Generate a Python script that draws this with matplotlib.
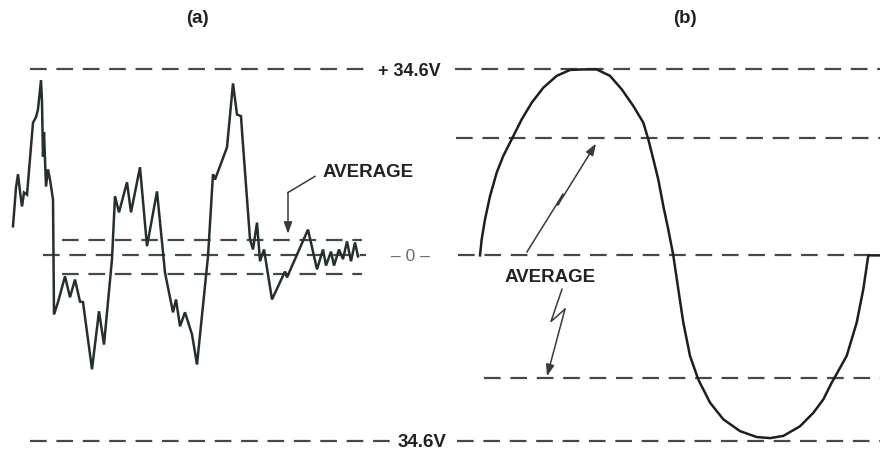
import matplotlib
matplotlib.use("Agg")
import matplotlib.pyplot as plt

plt.rcParams['lines.scale_dashes'] = False
plt.rcParams['font.family'] = ['Liberation Sans', 'DejaVu Sans']

# ---- data (time in arbitrary units, voltage in V) ----
peak_v = 34.6
band_a_hi = 2.8
band_a_lo = -3.4
avg_b_hi = 21.8
avg_b_lo = -22.9

# (a) random-like waveform
a_t = [13, 16, 18, 20, 22, 24, 27, 33, 36, 38, 41, 42, 43, 44, 46, 48, 50, 53, 54, 58,
       65, 70, 75, 80, 83, 92, 99, 104, 112, 115, 119, 127, 131, 140, 147, 157, 165, 173, 176, 180,
       185, 192, 197, 208, 213, 215, 227, 233, 237, 241, 242, 250, 253, 257, 260, 264, 272, 285, 287, 308,
       317, 323, 326, 331, 334, 339, 343, 347, 351, 355, 358]
a_v = [5.4, 12.6, 15.1, 11.9, 9.1, 11.7, 11.3, 24.7, 25.7, 27.2, 32.6, 28.5, 18.4, 22.9, 12.8, 16.0, 14.1, 10.4, -11.0, -8.7,
       -3.9, -7.8, -4.5, -8.6, -8.7, -21.2, -10.4, -16.6, -0.7, 11.0, 8.0, 13.6, 8.0, 16.4, 1.7, 11.9, -3.2, -10.6, -8.2, -13.2,
       -10.6, -14.7, -20.3, -0.2, 15.1, 14.1, 20.1, 32.0, 26.2, 25.9, 23.1, 3.0, 1.1, 6.1, -1.1, 1.1, -8.2, -3.0, -4.1, 4.8,
       -2.6, 1.1, -1.9, 0.7, -1.9, 1.1, -0.7, 2.6, -1.1, 2.4, -0.2]

# (b) sine-like waveform
b_t = [480, 481.7, 485, 490, 496.7, 503.3, 511.7, 521.7, 531.7, 543.3, 556.7, 570, 583.3, 596.7, 610,
       621.7, 633.3, 643.3, 648.3, 653.3, 658.3, 663.3, 668.3, 673.3,
       678.3, 683.3, 690, 698.3, 710, 723.3, 740, 756.7, 770, 783.3, 800, 813.3, 823.3, 831.7,
       846.7, 856.7, 863.3, 868.3, 880]
b_v = [0.0, 3.0, 6.7, 11.0, 15.4, 18.5, 21.6, 25.3, 28.4, 31.2, 33.4, 34.5, 34.6, 34.6, 33.4,
       30.9, 27.8, 24.7, 21.6, 17.9, 14.1, 9.2, 4.8, 0.0,
       -6.3, -12.5, -18.7, -23.1, -27.4, -30.5, -32.7, -33.8, -34.0, -33.6, -31.8, -29.3, -26.8, -23.7,
       -18.7, -12.5, -6.3, 0.0, 0.0]

# ---- figure ----
fig = plt.figure(figsize=(8.8, 4.52), dpi=100)
ax = fig.add_axes([0, 0, 1, 1])
ax.set_xlim(0, 880)
ax.set_ylim(-36.4, 47.7)
ax.axis('off')

dash_col = '#414a45'
wave_col = '#26302b'
dash = [12, 7]
lw_d = 1.6

def hline(y, x0, x1, col=dash_col, lw=lw_d):
    ax.plot([x0, x1], [y, y], color=col, lw=lw, dashes=dash, solid_capstyle='butt',
            dash_capstyle='butt')

# dashed reference lines
hline(peak_v, 30, 370)
hline(peak_v, 455, 880)
hline(-peak_v, 30, 392)
hline(-peak_v, 457, 880)
hline(0, 43, 366)
hline(0, 458, 880)
hline(band_a_hi, 62, 362)
hline(band_a_lo, 62, 362)
hline(avg_b_hi, 456, 880)
hline(avg_b_lo, 484, 880)

# waveforms
ax.plot(a_t, a_v, color=wave_col, lw=1.8, solid_joinstyle='miter')
ax.plot(b_t, b_v, color='#1e1e1e', lw=1.8)

# labels
tkw = dict(fontweight='bold', color='#222222', va='center')
ax.text(197, 44.3, '(a)', ha='center', fontsize=13.5, **tkw)
ax.text(685, 44.3, '(b)', ha='center', fontsize=13.5, **tkw)
ax.text(378, peak_v - 0.2, '+ 34.6V', ha='left', fontsize=13, **tkw)
ax.text(398, -peak_v, '34.6V', ha='left', fontsize=13.5, **tkw)
ax.text(410, 0, '– 0 –', ha='center', va='center', fontsize=12.5, color='#6a6a6a')
ax.text(323, 15.6, 'AVERAGE', ha='left', fontsize=13.5, **tkw)
ax.text(505, -4.0, 'AVERAGE', ha='left', fontsize=13.5, **tkw)

# arrows
acol = '#3a3a3a'
akw = dict(arrowstyle='-|>,head_length=0.7,head_width=0.25', color=acol, lw=1.1,
           shrinkA=0, shrinkB=0)
# left arrow
ax.plot([315, 288], [14.7, 11.7], color=acol, lw=1.1)
ax.annotate('', xy=(288, 4.0), xytext=(288, 11.7), arrowprops=akw)
# right upper lightning arrow
ax.plot([527, 563, 558], [0.65, 11.4, 9.4], color=acol, lw=1.1)
ax.annotate('', xy=(596, 20.8), xytext=(558, 9.4), arrowprops=akw)
# right lower lightning arrow
ax.plot([562, 551, 565], [-6.3, -12.3, -10.0], color=acol, lw=1.1)
ax.annotate('', xy=(547, -22.5), xytext=(565, -10.0), arrowprops=akw)

fig.savefig('out.png', dpi=100)
